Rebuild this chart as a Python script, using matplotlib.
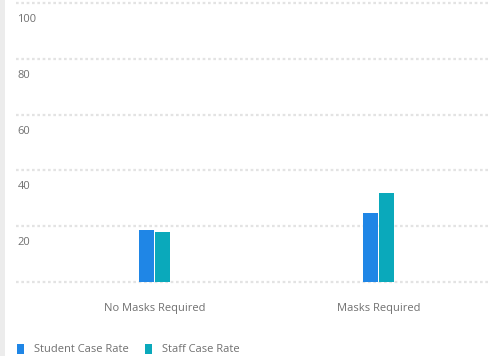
"""Case rates by mask policy, grouped bars."""

import matplotlib
matplotlib.use("Agg")
import matplotlib.pyplot as plt
import matplotlib.transforms as mtransforms
from matplotlib.patches import Rectangle
import numpy as np

categories = ["No Masks Required", "Masks Required"]
student_rate = [18.6, 24.6]
staff_rate = [17.9, 31.8]
series_names = ["Student Case Rate", "Staff Case Rate"]
y_ticks = [0, 20, 40, 60, 80, 100]

BLUE = "#1f86e6"
TEAL = "#0aa9bb"
GRID = "#e3e3e3"
TEXT = "#707070"

plt.rcParams["font.family"] = ["Open Sans", "DejaVu Sans"]

fig = plt.figure(figsize=(4.97, 3.56), dpi=100)
fig.patch.set_facecolor("white")
# light grey strip down the left edge
fig.patches.append(Rectangle((0, 0), 5 / 497, 1, transform=fig.transFigure,
                             facecolor="#ececec", edgecolor="none", zorder=0))

ax = fig.add_axes([16 / 497, 1 - 282 / 356, 473 / 497, 279 / 356])
ax.set_facecolor("none")

x = np.arange(len(categories))
w = 0.066
gap = 0.004
ax.bar(x - w / 2 - gap / 2, student_rate, width=w, color=BLUE, zorder=3)
ax.bar(x + w / 2 + gap / 2, staff_rate, width=w, color=TEAL, zorder=3)

ax.set_ylim(0, 100)
ax.set_xlim(-0.618, 1.493)

for spine in ax.spines.values():
    spine.set_visible(False)
ax.set_yticks([])
ax.set_xticks(x)
ax.set_xticklabels(categories, fontsize=8, color=TEXT)
ax.tick_params(axis="x", length=0, pad=15)

for v in y_ticks:
    ax.axhline(v, color=GRID, linestyle=(0, (1.2, 1.2)), linewidth=1.6,
               zorder=1, clip_on=False)

trans = mtransforms.blended_transform_factory(ax.transAxes, ax.transData)
for v in y_ticks[1:]:
    ax.text(0.003, v - 5.9, str(v), transform=trans, fontsize=8,
            color=TEXT, ha="left", va="center")

# legend along the bottom
legend_y = 1 - 349 / 356
for x0, name, color in [(17, series_names[0], BLUE), (145, series_names[1], TEAL)]:
    fig.patches.append(Rectangle((x0 / 497, legend_y - 5 / 356), 7 / 497, 10 / 356,
                                 transform=fig.transFigure, facecolor=color,
                                 edgecolor="none"))
    fig.text((x0 + 17) / 497, legend_y, name, fontsize=8, color=TEXT,
             ha="left", va="center")

fig.savefig("out.png", dpi=100)
